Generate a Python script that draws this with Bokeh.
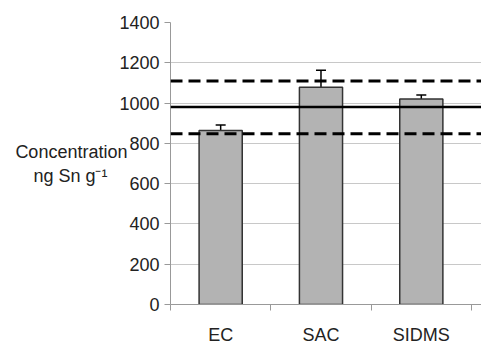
from bokeh.plotting import figure
from bokeh.models import FixedTicker, Whisker, ColumnDataSource, Span, Range1d, TeeHead
from bokeh.embed import file_html
from bokeh.resources import INLINE

categories = ["EC", "SAC", "SIDMS"]
values = [864, 1078, 1020]
errors = [27, 85, 20]
ref_value = 980
ref_upper = 1110
ref_lower = 848
y_ticks = [0, 200, 400, 600, 800, 1000, 1200, 1400]
y_label_lines = ["Concentration", "ng Sn g\u207b\u00b9\u2007\u2007"]

xs = [i + 0.5 for i in range(len(categories))]
src = ColumnDataSource(dict(
    x=xs, top=values,
    upper=[v + e for v, e in zip(values, errors)],
    lower=[v - e for v, e in zip(values, errors)],
))

FONT = "Liberation Sans"
p = figure(width=481, height=347, output_backend="svg", toolbar_location=None,
           x_range=Range1d(0, 3.1), y_range=Range1d(0, 1400),
           min_border_left=170, min_border_right=0, min_border_top=22, min_border_bottom=40)
p.outline_line_color = None
p.background_fill_color = "white"
p.border_fill_color = "white"

p.vbar(x="x", top="top", width=0.43, bottom=0, source=src,
       fill_color="#b3b3b3", line_color="#333333", line_width=1.5)

for loc, dash, lw in [(ref_value, "solid", 2.5), (ref_upper, "12 6", 3), (ref_lower, "12 6", 3)]:
    p.add_layout(Span(location=loc, dimension="width", line_color="black",
                      line_width=lw, line_dash=dash))

w = Whisker(base="x", upper="upper", lower="lower", source=src, line_color="black", line_width=1.5)
w.upper_head = TeeHead(size=10, line_color="black", line_width=1.5)
w.lower_head = TeeHead(size=10, line_color="black", line_width=1.5)
p.add_layout(w)

p.xgrid.grid_line_color = None
p.ygrid.grid_line_color = "#c8c8c8"
p.ygrid.grid_line_width = 1.2
p.ygrid.ticker = FixedTicker(ticks=y_ticks)

ya = p.yaxis[0]
ya.ticker = FixedTicker(ticks=y_ticks)
ya.axis_line_color = "#999999"
ya.major_tick_line_color = "#999999"
ya.major_tick_out = 6
ya.major_tick_in = 0
ya.minor_tick_line_color = None
ya.major_label_text_font = FONT
ya.major_label_text_font_size = "18px"
ya.major_label_text_color = "#222222"
ya.major_label_standoff = 5
ya.axis_label = "\n".join(y_label_lines)
ya.axis_label_orientation = "horizontal"
ya.axis_label_text_align = "center"
ya.axis_label_text_font = FONT
ya.axis_label_text_font_size = "18px"
ya.axis_label_text_font_style = "normal"
ya.axis_label_text_color = "#222222"
ya.axis_label_standoff = -11

xa = p.xaxis[0]
xa.ticker = FixedTicker(ticks=xs, minor_ticks=[0, 1, 2, 3])
xa.major_label_overrides = {x: c for x, c in zip(xs, categories)}
xa.axis_line_color = "#999999"
xa.major_tick_line_color = None
xa.major_tick_out = 0
xa.major_tick_in = 0
xa.minor_tick_line_color = "#999999"
xa.minor_tick_out = 6
xa.minor_tick_in = 0
xa.major_label_text_font = FONT
xa.major_label_text_font_size = "18px"
xa.major_label_text_color = "#222222"
xa.major_label_standoff = 14

open("out.html", "w").write(file_html(p, INLINE))
